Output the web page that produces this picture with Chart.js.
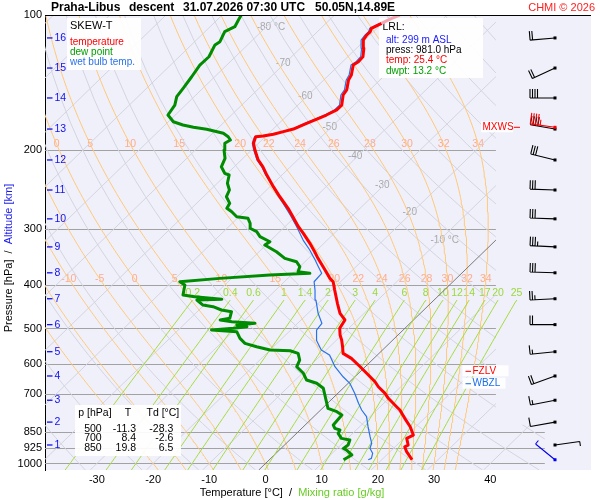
<!DOCTYPE html>
<html lang="en">
<head>
  <meta charset="UTF-8" />
  <title>Skew-T Praha-Libus</title>
  <script src="https://cdn.jsdelivr.net/npm/chart.js"></script>
  <style>
    html, body { margin: 0; padding: 0; background: #fff; }
  </style>
</head>
<body>
  <canvas id="skewt" width="600" height="500"></canvas>

  <script>
    const FONT = '"Liberation Sans", Arial, Helvetica, sans-serif';

    // ---- sounding (descent), surface upwards ----
    const tempP = [981, 941.3, 917.6, 909.6, 878.7, 864.3, 827.9, 793.1, 759.9, 747.1, 715.6, 697.5, 674.4, 657.4, 640.7, 608.6, 583.0, 568.2, 549.2, 530.6, 517.1, 499.5, 478.6, 462.5, 439.3, 410.6, 393.4, 386.6, 370.4, 348.8, 337.2, 322.9, 306.8, 296.5, 279.2, 269.8, 254.2, 241.4, 227.4, 218.0, 210.5, 200.0, 193.2, 186.8, 186.1, 184.5, 182.0, 179.6, 174.4, 170.9, 167.1, 162.8, 158.8, 150.8, 146.9, 139.6, 136.1, 129.3, 127.1, 123.9, 118.6, 113.7, 110.8, 108.9, 107.1, 104.4];
    const tempT = [25.4, 22.95, 21.7, 22.0, 20.5, 21.1, 19.0, 16.5, 14.1, 12.9, 9.9, 8.4, 6.0, 4.5, 2.7, -0.9, -4.0, -6.4, -7.7, -9.1, -10.3, -11.6, -12.2, -14.3, -16.6, -19.5, -21.3, -22.5, -24.9, -28.3, -30.1, -32.5, -35.5, -37.6, -40.9, -42.8, -46.4, -49.4, -52.7, -54.9, -57.0, -59.4, -60.9, -61.7, -60.5, -59.0, -57.7, -56.4, -55.1, -54.1, -53.1, -52.2, -52.2, -53.8, -54.1, -55.6, -56.0, -57.5, -57.2, -57.3, -58.7, -60.3, -60.6, -60.6, -61.0, -60.1];
    const descP = [104.4, 102.1, 100];
    const descT = [-60.1, -59.4, -58.4];

    const dewP = [981, 957.1, 932.9, 925.2, 909.2, 886.4, 879.0, 856.7, 842.0, 835.1, 820.7, 779.7, 766.5, 753.4, 728.2, 703.6, 679.8, 662.5, 651.5, 629.4, 608.4, 587.9, 568.1, 560.6, 558.5, 549.2, 539.6, 526.0, 508.3, 504.0, 499.5, 495.5, 491.1, 486.7, 482.8, 478.6, 474.5, 458.7, 454.7, 447.1, 443.3, 432.0, 430.4, 424.7, 421.0, 399.9, 393.3, 386.6, 380.0, 376.7, 373.6, 364.1, 354.9, 348.8, 337.2, 325.8, 320.3, 312.1, 304.2, 298.9, 291.4, 284.0, 281.7, 274.6, 269.8, 263.0, 254.2, 245.6, 237.2, 227.4, 225.4, 218.0, 208.7, 200.0, 193.2, 190.0, 186.8, 183.5, 179.8, 178.0, 175.9, 173.0, 167.1, 158.8, 152.1, 145.7, 137.3, 129.3, 123.9, 116.6, 114.7, 108.9, 106.2, 102.6, 100];
    const dewT = [13.2, 13.8, 11.9, 11.1, 11.3, 10.7, 8.9, 7.4, 7.1, 5.9, 5.0, 4.7, 3.2, 1.0, -0.5, -2.0, -3.5, -5.6, -8.0, -9.8, -12.2, -12.9, -14.4, -16.3, -20.0, -23.0, -25.7, -27.5, -29.3, -34.1, -30.5, -28.4, -30.5, -27.6, -32.0, -34.4, -33.0, -33.9, -36.0, -38.1, -40.2, -42.2, -37.9, -43.2, -45.6, -47.1, -48.6, -42.1, -33.8, -27.0, -29.4, -30.0, -31.5, -34.2, -36.9, -40.2, -39.9, -42.6, -44.1, -45.9, -46.8, -48.1, -50.4, -52.2, -53.7, -54.1, -55.9, -56.6, -58.2, -59.4, -60.5, -62.3, -63.2, -64.9, -66.0, -65.6, -66.6, -68.1, -71.8, -74.5, -76.8, -79.1, -81.3, -81.9, -83.1, -83.5, -84.1, -84.8, -84.7, -85.8, -85.5, -86.5, -85.6, -86.2, -86.6];

    const wetP = [981, 974, 949.1, 925.1, 901.6, 871.6, 827.9, 786.5, 759.9, 734.0, 697.5, 662.7, 640.7, 608.4, 573.0, 558.5, 530.6, 504.0, 486.8, 462.5, 432.2, 410.6, 393.3, 376.7, 364.1, 351.8, 334.2, 317.6, 296.5, 279.2, 263.0, 249.9, 235.3, 227.4, 218.0, 210.5, 200.0, 193.2, 186.8, 186.1, 184.5, 182.0, 179.6, 174.4, 170.9, 167.1, 162.8, 158.8, 150.8, 146.9, 139.6, 136.1, 129.3, 127.1, 123.9, 118.6, 113.7, 110.8, 108.9, 107.1, 104.4];
    const wetT = [17.6, 17.9, 17.2, 15.8, 15.2, 13.7, 11.5, 9.4, 7.3, 5.5, 3.0, 0.3, -2.1, -5.4, -8.5, -10.9, -13.6, -15.4, -15.7, -18.2, -21.0, -23.0, -24.7, -24.9, -26.7, -28.5, -31.3, -34.3, -37.9, -41.2, -44.6, -47.6, -50.9, -52.9, -55.1, -57.2, -59.6, -61.1, -61.9, -60.7, -59.2, -57.9, -56.6, -55.4, -54.4, -53.4, -52.6, -52.6, -54.2, -54.5, -56.0, -56.4, -57.9, -57.6, -57.7, -59.1, -60.7, -60.9, -60.9, -61.3, -60.4];

    // ---- winds at the altitude marks ----
    const windP = [112.5, 131.3, 153.1, 179.6, 210.5, 245.6, 284.8, 328.9, 375.7, 429.2, 490.2, 563.3, 638.1, 722.7, 808.6, 909.4, 981];
    const windDir = [265, 245, 270, 280, 284, 272, 272, 273, 272, 267, 270, 264, 250, 259, 260, 82, 309];
    const windSpd = [20, 20, 40, 40, 30, 30, 30, 35, 30, 25, 20, 15, 20, 15, 10, 5, 5];
    const mxwsP = 178, mxwsDir = 278, mxwsSpd = 45;
    const fzlvP = 623, wbzlP = 664;

    // ---- axes / diagram furniture ----
    const pressureTicks = [100, 200, 300, 400, 500, 600, 700, 850, 925, 1000];
    const tempTicks = [-30, -20, -10, 0, 10, 20, 30, 40];
    const altKm = [16, 15, 14, 13, 12, 11, 10, 9, 8, 7, 6, 5, 4, 3, 2, 1];
    const altP = [112.5, 131.3, 153.1, 179.6, 210.5, 245.6, 284.8, 328.9, 375.7, 429.2, 490.2, 563.3, 638.1, 722.7, 808.6, 909.4];
    const isoTemps = [-130, -120, -110, -100, -90, -80, -70, -60, -50, -40, -30, -20, -10, 0, 10, 20, 30, 40];
    const isoLabelT = [-80, -70, -60, -50, -40, -30, -20, -10];
    const isoLabelP = [106.4, 127.8, 151.5, 177.5, 206.9, 239.1, 275.9, 317.5];
    const dryThetas = [230, 240, 250, 260, 270, 280, 290, 300, 310, 320, 330, 340, 350, 360, 370, 380, 390, 400, 410, 420, 430, 440, 450, 460, 470];
    const moistThetaW = [-20, -15, -10, -5, 0, 5, 10, 15, 20, 22, 24, 26, 28, 30, 32, 34];
    const mixRatios = [0.2, 0.4, 0.6, 1, 1.4, 2, 3, 4, 6, 8, 10, 12, 14, 17, 20, 25];

    const tableP = [500, 700, 850];
    const tableT = [-11.3, 8.4, 19.8];
    const tableTd = [-28.3, -2.6, 6.5];

    const SKEW = 82.3;              // °C of skew per decade of pressure
    const P_TOP = 100, P_BOT = 1034;
    const X_MIN = -39.23, X_MAX = 57.92;
    const GRID_RIGHT = 41.0, GRID_RIGHT_LOW = 49.7, GRID_LOW_P = 820;
    const MIX_TOP_P = 432, MIX_LABEL_P = 417;
    const THW_LABEL_P = [194.3, 387.6];
    const STATION_X = 555;

    const skewX = (t, p) => t + SKEW * Math.log10(1000 / p);

    // pseudo-adiabatic lapse rate dT/dp (K/hPa)
    function dTdp(T, p) {
      const tc = T - 273.15;
      const es = 6.112 * Math.exp(17.67 * tc / (tc + 243.5));
      const rs = 0.622 * es / (p - es);
      const Lv = 2.501e6, Rd = 287.04, cp = 1005.7;
      return (Rd * T + Lv * rs) / (p * (cp + Lv * Lv * rs * 0.622 / (Rd * T * T)));
    }
    function rk4(T, p, h) {
      const k1 = dTdp(T, p), k2 = dTdp(T + h * k1 / 2, p + h / 2);
      const k3 = dTdp(T + h * k2 / 2, p + h / 2), k4 = dTdp(T + h * k3, p + h);
      return T + h * (k1 + 2 * k2 + 2 * k3 + k4) / 6;
    }
    function moistT(tw, pEnd) {
      let T = tw + 273.15, p = 1000;
      const dir = pEnd < p ? -1 : 1;
      while (Math.abs(pEnd - p) > 1e-6) {
        const h = dir * Math.min(5, Math.abs(pEnd - p));
        T = rk4(T, p, h); p += h;
      }
      return T - 273.15;
    }
    function moistAdiabat(tw) {
      const pts = [{ x: skewX(moistT(tw, P_BOT), P_BOT), y: P_BOT }];
      let T = tw + 273.15, p = 1000;
      pts.push({ x: skewX(tw, 1000), y: 1000 });
      while (p > P_TOP) { T = rk4(T, p, -5); p -= 5; pts.push({ x: skewX(T - 273.15, p), y: p }); }
      return pts;
    }
    function dryAdiabat(th) {
      const pts = [];
      for (let p = P_BOT; p >= P_TOP; p -= 20) pts.push({ x: skewX(th * Math.pow(p / 1000, 0.2857) - 273.15, p), y: p });
      pts.push({ x: skewX(th * Math.pow(0.1, 0.2857) - 273.15, P_TOP), y: P_TOP });
      return pts;
    }
    function mixTd(w, p) {
      const e = (w / 1000) * p / (0.622 + w / 1000);
      const l = Math.log(e / 6.112);
      return 243.5 * l / (17.67 - l);
    }
    function mixLine(w) {
      const pts = [];
      for (let p = P_BOT; p > MIX_TOP_P; p -= 20) pts.push({ x: skewX(mixTd(w, p), p), y: p });
      pts.push({ x: skewX(mixTd(w, MIX_TOP_P), MIX_TOP_P), y: MIX_TOP_P });
      return pts;
    }
    const profile = (ps, ts) => ps.map((p, i) => ({ x: skewX(ts[i], p), y: p }));

    function lineSet(data, color, width, clip) {
      return { data, borderColor: color, borderWidth: width, pointRadius: 0, showLine: true,
               tension: 0, fill: false, borderJoinStyle: 'round', gridClip: clip };
    }

    const gridSets = [];
    mixRatios.forEach(w => gridSets.push(lineSet(mixLine(w), '#a6dc40', 1, false)));
    gridSets.push(lineSet([{ x: skewX(0, P_BOT), y: P_BOT }, { x: skewX(0, P_TOP), y: P_TOP }], '#7a7a7a', 1, true));
    moistThetaW.forEach(tw => gridSets.push(lineSet(moistAdiabat(tw), '#ffc878', 1, true)));
    dryThetas.forEach(th => gridSets.push(lineSet(dryAdiabat(th), '#d4d4de', 1, true)));
    isoTemps.filter(t => t !== 0).forEach(t => gridSets.push(lineSet(
      [{ x: skewX(t, P_BOT), y: P_BOT }, { x: skewX(t, P_TOP), y: P_TOP }], '#d4d4de', 1, true)));

    function text(ctx, s, x, y, color, size, align, bold) {
      ctx.font = (bold ? 'bold ' : '') + size + 'px ' + FONT;
      ctx.fillStyle = color;
      ctx.textAlign = align || 'left';
      ctx.textBaseline = 'middle';
      ctx.fillText(s, x, y);
    }

    function drawBarb(ctx, x0, y0, dir, spd, color, flen) {
      const r = dir * Math.PI / 180;
      const vx = Math.sin(r), vy = -Math.cos(r);
      const px = -vy, py = vx;
      const ex = x0 + vx * 25, ey = y0 + vy * 25;
      ctx.strokeStyle = color; ctx.lineWidth = 1.1;
      ctx.beginPath(); ctx.moveTo(x0, y0); ctx.lineTo(ex, ey);
      let n = spd, pos = 0;
      while (n >= 10) {
        const bx = ex - vx * pos, by = ey - vy * pos;
        ctx.moveTo(bx, by); ctx.lineTo(bx + px * flen, by + py * flen);
        pos += 2.5; n -= 10;
      }
      if (n >= 5) {
        const bx = ex - vx * pos, by = ey - vy * pos;
        ctx.moveTo(bx, by); ctx.lineTo(bx + px * flen / 2, by + py * flen / 2);
      }
      ctx.stroke();
      ctx.fillStyle = color;
      ctx.fillRect(x0 - 1.5, y0 - 1.5, 3, 3);
    }

    function clipPath(chart) {
      const { ctx, chartArea: a, scales: { x, y } } = chart;
      const xr = x.getPixelForValue(GRID_RIGHT), xr2 = x.getPixelForValue(GRID_RIGHT_LOW);
      const yl = y.getPixelForValue(GRID_LOW_P);
      ctx.beginPath();
      ctx.moveTo(a.left, a.top); ctx.lineTo(xr, a.top); ctx.lineTo(xr, yl);
      ctx.lineTo(xr2, yl); ctx.lineTo(xr2, a.bottom); ctx.lineTo(a.left, a.bottom);
      ctx.closePath();
    }

    // white info boxes: drawn over the diagram grid but under the sounding curves
    function drawBoxes(chart) {
      const { ctx, scales: { y } } = chart;
      ctx.save();
      ctx.fillStyle = 'rgba(255,255,255,0.92)';
      ctx.fillRect(67, 18, 74, 52);
      ctx.fillRect(379, 18, 104, 60);
      ctx.fillRect(75, 405, 106, 51);
      text(ctx, 'SKEW-T', 70, 26, '#000', 11);
      text(ctx, 'temperature', 70, 42.5, '#ff0000', 10);
      text(ctx, 'dew point', 70, 52.3, '#00a000', 10);
      text(ctx, 'wet bulb temp.', 70, 62.3, '#2a72e8', 10);

      text(ctx, 'LRL:', 382.5, 27.5, '#000', 10.5);
      text(ctx, 'alt: 299 m ASL', 386, 40, '#1a1aff', 10);
      text(ctx, 'press: 981.0 hPa', 386, 50.3, '#000', 10);
      text(ctx, 'temp: 25.4 °C', 386, 60.6, '#ff0000', 10);
      text(ctx, 'dwpt: 13.2 °C', 386, 70.8, '#00a000', 10);

      text(ctx, 'p [hPa]', 78.3, 413.5, '#000', 10.5);
      text(ctx, 'T', 128, 413.5, '#000', 10.5, 'center');
      text(ctx, 'Td [°C]', 146.5, 413.5, '#000', 10.5);
      tableP.forEach((p, i) => {
        const ty = 428.7 + i * 9.8;
        text(ctx, String(p), 101.7, ty, '#000', 10.5, 'right');
        text(ctx, tableT[i].toFixed(1), 136, ty, '#000', 10.5, 'right');
        text(ctx, tableTd[i].toFixed(1), 173.3, ty, '#000', 10.5, 'right');
      });

      [[fzlvP, 'FZLV', '#ff0000', 46], [wbzlP, 'WBZL', '#1a6ee8', 43]].forEach(([p, s, c, w]) => {
        const py = y.getPixelForValue(p);
        ctx.fillStyle = 'rgba(255,255,255,0.92)'; ctx.fillRect(462.5, py - 6, w, 11);
        ctx.strokeStyle = c; ctx.lineWidth = 1;
        ctx.beginPath(); ctx.moveTo(465.5, py); ctx.lineTo(471, py); ctx.stroke();
        text(ctx, s, 472.5, py, c, 10);
      });
      ctx.restore();
    }

    const skewDecor = {
      id: 'skewDecor',
      beforeDraw(chart) {
        const { ctx, chartArea: a } = chart;
        ctx.save();
        ctx.fillStyle = '#fff'; ctx.fillRect(0, 0, chart.width, chart.height);
        ctx.fillStyle = '#f0f0fb'; ctx.fillRect(a.left, a.top, a.right - a.left, a.bottom - a.top);
        ctx.restore();
      },
      beforeDatasetsDraw(chart) {
        const { ctx, chartArea: a, scales: { x, y } } = chart;
        const xr = x.getPixelForValue(GRID_RIGHT), xr2 = x.getPixelForValue(GRID_RIGHT_LOW);
        ctx.save();
        ctx.strokeStyle = '#a2a2a2'; ctx.lineWidth = 1;
        pressureTicks.slice(1).forEach(p => {
          const py = Math.round(y.getPixelForValue(p)) + 0.5;
          ctx.beginPath(); ctx.moveTo(a.left, py); ctx.lineTo(p >= 850 ? xr2 : xr, py); ctx.stroke();
        });
        // isotherm labels
        isoLabelT.forEach((t, i) => {
          const px = x.getPixelForValue(skewX(t, isoLabelP[i])), py = y.getPixelForValue(isoLabelP[i]);
          ctx.font = '10px ' + FONT;
          const w = ctx.measureText(String(t)).width;
          text(ctx, (t === -80 || t === -10) ? t + ' °C' : String(t), px - w / 2 - 2, py, '#a8a8a8', 10, 'left');
        });
        // wet-bulb potential temperature labels
        THW_LABEL_P.forEach(pl => {
          const py = y.getPixelForValue(pl);
          moistThetaW.forEach(tw => {
            const px = x.getPixelForValue(skewX(moistT(tw, pl), pl));
            if (px > a.left + 5 && px < xr - 4) text(ctx, String(tw), px, py, '#ffab8c', 10.5, 'center');
          });
        });
        // mixing ratio labels
        const my = y.getPixelForValue(MIX_LABEL_P);
        mixRatios.forEach(w => {
          const px = x.getPixelForValue(skewX(mixTd(w, MIX_TOP_P), MIX_TOP_P));
          text(ctx, String(w), px, my, '#9ad83a', 10.5, 'center');
        });
        ctx.restore();
      },
      beforeDatasetDraw(chart, args) {
        const ds = chart.data.datasets[args.index];
        if (ds.boxesBelow) drawBoxes(chart);
        if (ds.gridClip) { chart.ctx.save(); clipPath(chart); chart.ctx.clip(); }
      },
      afterDatasetDraw(chart, args) {
        if (chart.data.datasets[args.index].gridClip) chart.ctx.restore();
      },
      afterDraw(chart) {
        const { ctx, chartArea: a, scales: { y } } = chart;
        ctx.save();
        // top frame
        ctx.strokeStyle = '#000'; ctx.lineWidth = 1;
        ctx.beginPath(); ctx.moveTo(a.left, a.top + 0.5); ctx.lineTo(a.right, a.top + 0.5); ctx.stroke();

        // title
        text(ctx, 'Praha-Libus', 51, 8, '#000', 12, 'left', true);
        text(ctx, 'descent', 129, 8, '#000', 12, 'left', true);
        text(ctx, '31.07.2026 07:30 UTC', 183, 8, '#000', 12, 'left', true);
        text(ctx, '50.05N,14.89E', 315, 8, '#000', 12, 'left', true);
        text(ctx, 'CHMI © 2026', 595, 8, '#ff2020', 11, 'right');

        // altitude marks
        ctx.strokeStyle = '#1010f0'; ctx.lineWidth = 1.3;
        altKm.forEach((k, i) => {
          const py = y.getPixelForValue(altP[i]);
          ctx.beginPath(); ctx.moveTo(47, py); ctx.lineTo(52.5, py); ctx.stroke();
          text(ctx, String(k), 54.5, py, '#1010f0', 10.5, 'left');
        });

        // max wind
        const my = y.getPixelForValue(mxwsP);
        ctx.fillStyle = 'rgba(255,255,255,0.92)'; ctx.fillRect(481, my - 6, 32, 11);
        text(ctx, 'MXWS', 482.5, my, '#ff0000', 10);
        ctx.strokeStyle = '#ff0000'; ctx.lineWidth = 1;
        ctx.beginPath(); ctx.moveTo(514, my); ctx.lineTo(520, my); ctx.stroke();

        // wind barbs
        windP.forEach((p, i) => {
          const last = i === windP.length - 1;
          drawBarb(ctx, STATION_X, y.getPixelForValue(p), windDir[i], windSpd[i], last ? '#0000ee' : '#000', 9);
        });
        drawBarb(ctx, STATION_X, y.getPixelForValue(mxwsP), mxwsDir, mxwsSpd, '#ff0000', 11);

        // axis titles
        ctx.font = '11px ' + FONT;
        const xParts = [['Temperature [°C]', '#000'], ['  /  ', '#000'], ['Mixing ratio [g/kg]', '#66cc22']];
        let total = xParts.reduce((s, p) => s + ctx.measureText(p[0]).width, 0);
        let cx = 292 - total / 2;
        xParts.forEach(([s, c]) => { text(ctx, s, cx, 493, c, 11); cx += ctx.measureText(s).width; });

        const yParts = [['Pressure [hPa]', '#000'], ['  /  ', '#000'], ['Altitude [km]', '#1a1aee']];
        ctx.translate(9, 258); ctx.rotate(-Math.PI / 2);
        ctx.font = '11px ' + FONT;
        total = yParts.reduce((s, p) => s + ctx.measureText(p[0]).width, 0);
        cx = -total / 2;
        yParts.forEach(([s, c]) => { text(ctx, s, cx, 0, c, 11); cx += ctx.measureText(s).width; });
        ctx.restore();
      }
    };

    const wetSet = lineSet(profile(wetP, wetT), '#2a72e8', 1.2, false);
    wetSet.boxesBelow = true;   // first sounding curve drawn: put the info boxes under it

    new Chart(document.getElementById('skewt'), {
      type: 'scatter',
      data: {
        datasets: [
          lineSet(profile(descP, descT), '#f5a6b2', 3, false),
          lineSet(profile(tempP, tempT), '#ff0000', 3, false),
          lineSet(profile(dewP, dewT), '#008c00', 3, false),
          wetSet,
          ...gridSets
        ]
      },
      options: {
        responsive: false,
        animation: false,
        events: [],
        layout: { padding: { left: 0, top: 15, right: 9, bottom: 0 } },
        plugins: { legend: { display: false }, tooltip: { enabled: false }, title: { display: false } },
        scales: {
          x: {
            type: 'linear', position: 'bottom', min: X_MIN, max: X_MAX,
            grid: { display: false, drawTicks: false }, border: { display: false },
            ticks: { font: { family: FONT, size: 11 }, color: '#000', padding: 3, autoSkip: false, maxRotation: 0,
                     callback: v => String(v) },
            afterBuildTicks: s => { s.ticks = tempTicks.map(v => ({ value: v })); },
            afterFit: s => { s.height = 30; }
          },
          y: {
            type: 'logarithmic', position: 'left', reverse: true, min: P_TOP, max: P_BOT,
            grid: { display: false, drawTicks: false }, border: { display: true, color: '#000', width: 1 },
            ticks: { font: { family: FONT, size: 11 }, color: '#000', padding: 3, autoSkip: false,
                     callback: v => String(v) },
            afterBuildTicks: s => { s.ticks = pressureTicks.map(v => ({ value: v })); },
            afterFit: s => { s.width = 45; }
          }
        }
      },
      plugins: [skewDecor]
    });
  </script>
</body>
</html>
